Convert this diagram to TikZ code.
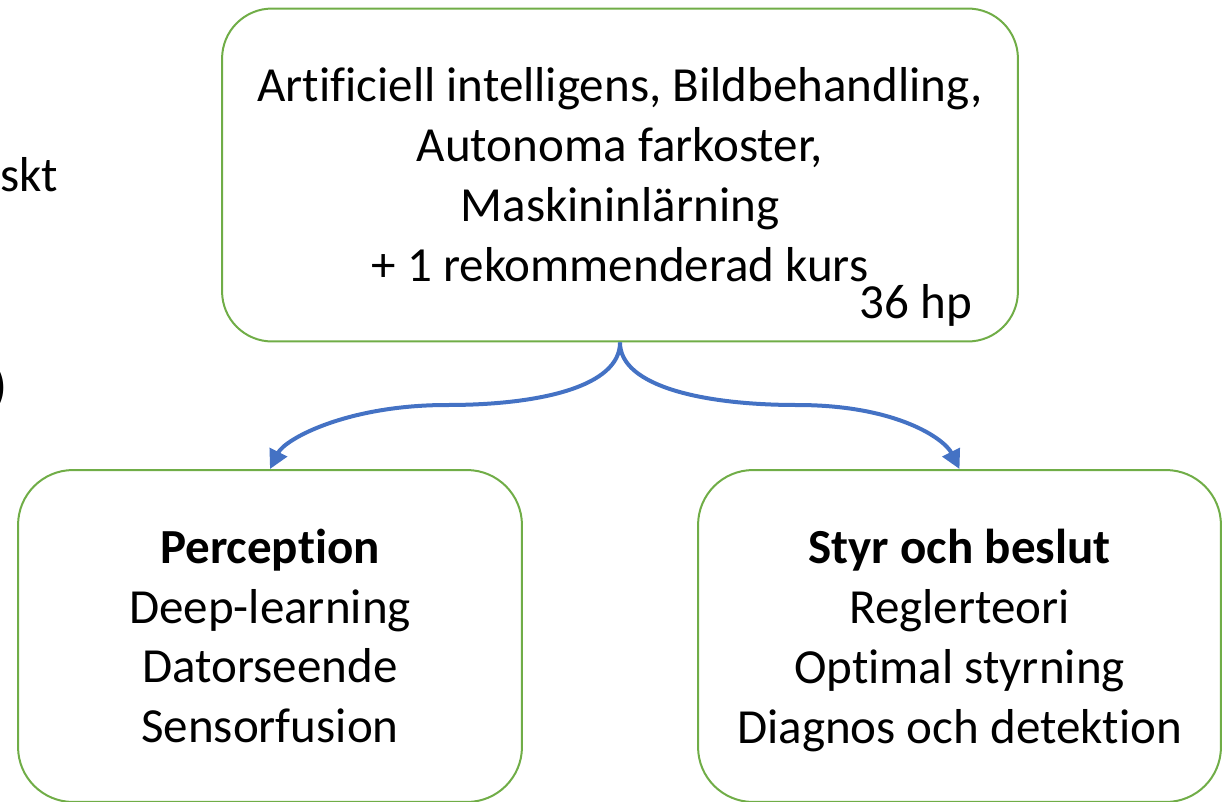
\documentclass[tikz,border=0pt]{standalone}
\usepackage{fontspec}
\setmainfont{Carlito}[Ligatures=NoCommon]
\usetikzlibrary{arrows.meta, positioning}
\definecolor{boxgreen}{HTML}{70AD47}
\definecolor{arrowblue}{HTML}{4472C4}

\begin{document}
\begin{tikzpicture}[
    x=0.02cm, y=-0.02cm,
    kurspaket/.style={rectangle, draw=boxgreen, line width=0.04cm, rounded corners=1cm, minimum width=15.92cm, minimum height=6.66cm, align=center, font=\fontsize{27.9}{34.1}\selectfont},
    inriktning/.style={rectangle, draw=boxgreen, line width=0.04cm, rounded corners=1.1cm, minimum width=10.08cm, minimum height=6.64cm, align=center, font=\fontsize{27.9}{34.1}\selectfont},
    flow/.style={draw=arrowblue, line width=0.08cm, -{Triangle[length=0.38cm, width=0.38cm]}},
    lose/.style={font=\fontsize{27.9}{34.1}\selectfont, inner sep=0pt}
]
    \useasboundingbox (0,0) rectangle (1230,801);
    \node[kurspaket] (paket) at (620,175) {Artificiell intelligens, Bildbehandling,\\Autonoma farkoster,\\Maskininlärning\\+ 1 rekommenderad kurs};
    \node[lose, anchor=base] (hp) at (916,318) {36 hp};
    \node[inriktning] (perc) at (270,636) {\textbf{Perception}\\Deep-learning\\Datorseende\\Sensorfusion};
    \node[inriktning, minimum width=10.46cm] (styr) at (959.5,636) {\textbf{Styr och beslut}\\Reglerteori\\Optimal styrning\\\raisebox{0pt}[\height][0pt]{Diagnos och detektion}};
    % bits of text cut off at the left edge
    \node[lose, anchor=base east] (skt) at (58,191) {skt};
    \node[lose, anchor=east] (parent) at (8,388) {)};
    \coordinate (knaV) at (447,405);
    \coordinate (knaH) at (797,405);
    \draw[flow] (paket.south) .. controls +(0,44) and +(93,0) .. (knaV) .. controls +(-100,0) and +(15,-30) .. (perc.north);
    \draw[flow] (paket.south) .. controls +(0,44) and +(-93,0) .. (knaH) .. controls +(100,0) and +(-15,-30) .. (styr.north);
\end{tikzpicture}
\end{document}
